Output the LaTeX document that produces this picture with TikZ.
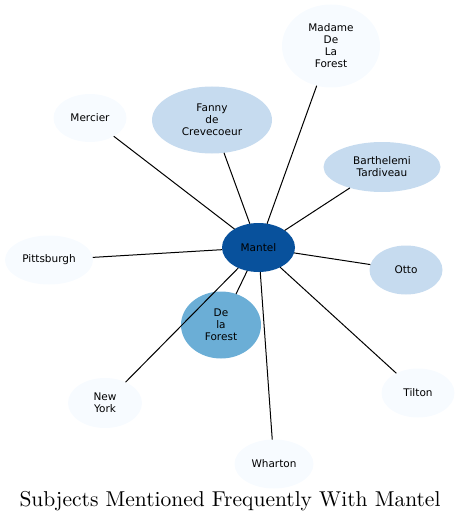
\documentclass[tikz,border=0pt]{standalone}
\usepackage{fontspec}
\setmainfont{DejaVu Sans}
\newfontfamily\titlefont{lmroman10-regular.otf}
\usetikzlibrary{shapes.geometric}
\definecolor{blueA}{HTML}{F7FBFF}
\definecolor{blueB}{HTML}{C6DBEF}
\definecolor{blueC}{HTML}{6BAED6}
\definecolor{blueD}{HTML}{08519C}
\begin{document}
\begin{tikzpicture}[x=1pt,y=-1pt,
  ent/.style={ellipse,inner sep=0pt,outer sep=0pt,align=center,font=\fontsize{10.5}{12}\selectfont},
  link/.style={draw=black,line width=1pt}]
\useasboundingbox (0,0) rectangle (460,524);
\node[ent,fill=blueD,minimum width=73,minimum height=49] (mantel) at (258.5,247.5) {Mantel};
\node[ent,fill=blueA,minimum width=98,minimum height=83] (madame) at (331,46) {Madame\\De\\La\\Forest};
\node[ent,fill=blueB,minimum width=120,minimum height=67] (fanny) at (212,120) {Fanny\\de\\Crevecoeur};
\node[ent,fill=blueB,minimum width=117,minimum height=50] (barth) at (382,167) {Barthelemi\\Tardiveau};
\node[ent,fill=blueA,minimum width=73,minimum height=48] (mercier) at (90,118) {Mercier};
\node[ent,fill=blueA,minimum width=88,minimum height=49] (pitt) at (49,260) {Pittsburgh};
\node[ent,fill=blueC,minimum width=80,minimum height=67] (delaforest) at (221,325) {De\\la\\Forest};
\node[ent,fill=blueA,minimum width=74,minimum height=50] (ny) at (105,403) {New\\York};
\node[ent,fill=blueB,minimum width=73,minimum height=49] (otto) at (406,270) {Otto};
\node[ent,fill=blueA,minimum width=73,minimum height=49] (tilton) at (418,393) {Tilton};
\node[ent,fill=blueA,minimum width=79,minimum height=49] (wharton) at (274,464) {Wharton};
\draw[link] (mantel) -- (madame);
\draw[link] (mantel) -- (fanny);
\draw[link] (mantel) -- (barth);
\draw[link] (mantel) -- (mercier);
\draw[link] (mantel) -- (pitt);
\draw[link] (mantel) -- (delaforest);
\draw[link] (mantel) -- (ny);
\draw[link] (mantel) -- (otto);
\draw[link] (mantel) -- (tilton);
\draw[link] (mantel) -- (wharton);
\node[font=\titlefont\fontsize{21.5}{24}\selectfont,inner sep=0pt] (title) at (230,501) {Subjects Mentioned Frequently With Mantel};
\end{tikzpicture}
\end{document}
